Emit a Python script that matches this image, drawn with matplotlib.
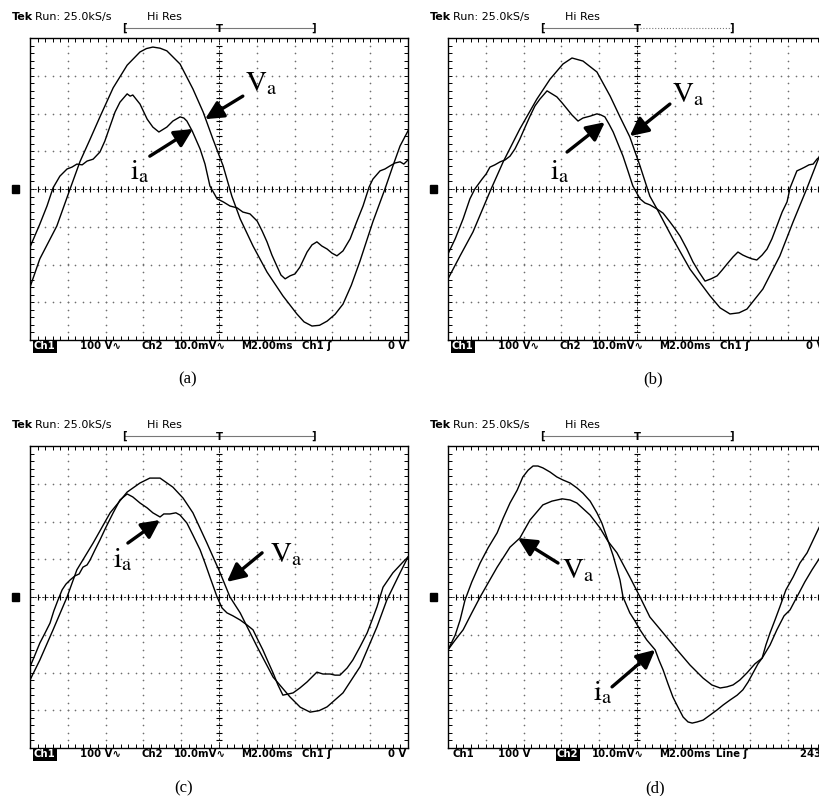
import numpy as np
import matplotlib.pyplot as plt
from matplotlib.patches import Rectangle

plt.rcParams['mathtext.fontset'] = 'stix'

W, H = 820, 796        # figure size in pixels
PW, PH = 378, 302      # one scope screen: 10 x 8 divisions

# --- traces read off the four scope screens ---
# x in divisions (0..10, 2 ms/div), y in divisions (-4..4)
va_a = [(0, -2.60), (0.26, -1.85), (0.71, -0.98), (1.06, 0.00), (1.32, 0.72), (1.59, 1.32),
        (1.85, 1.91), (2.20, 2.68), (2.57, 3.28), (2.91, 3.63), (3.08, 3.72), (3.25, 3.76),
        (3.44, 3.73), (3.62, 3.66), (3.97, 3.31), (4.31, 2.65), (4.58, 2.04), (4.84, 1.32),
        (5.11, 0.61), (5.34, -0.19), (5.56, -0.79), (5.90, -1.51), (6.27, -2.20), (6.69, -2.83),
        (7.06, -3.31), (7.25, -3.52), (7.46, -3.63), (7.66, -3.61), (7.86, -3.50), (8.07, -3.32),
        (8.28, -3.05), (8.50, -2.55), (8.73, -1.91), (9.07, -0.87), (9.39, 0.00), (9.60, 0.61),
        (9.79, 1.14), (10.0, 1.54)]
ia_a = [(0, -1.54), (0.26, -0.93), (0.45, -0.45), (0.61, 0.03), (0.79, 0.34), (0.98, 0.53),
        (1.11, 0.58), (1.24, 0.66), (1.38, 0.64), (1.51, 0.74), (1.67, 0.79), (1.85, 0.98),
        (1.98, 1.27), (2.12, 1.67), (2.25, 2.04), (2.38, 2.30), (2.57, 2.52), (2.65, 2.46),
        (2.72, 2.49), (2.91, 2.25), (3.10, 1.85), (3.25, 1.64), (3.41, 1.51), (3.62, 1.64),
        (3.78, 1.80), (3.97, 1.91), (4.07, 1.88), (4.15, 1.80), (4.29, 1.54), (4.50, 1.06),
        (4.63, 0.66), (4.76, 0.08), (4.95, -0.26), (5.11, -0.34), (5.29, -0.45), (5.48, -0.50),
        (5.63, -0.61), (5.82, -0.66), (6.01, -0.85), (6.14, -1.11), (6.27, -1.40), (6.40, -1.75),
        (6.53, -2.04), (6.64, -2.28), (6.75, -2.38), (6.88, -2.30), (7.01, -2.25), (7.14, -2.07),
        (7.33, -1.67), (7.46, -1.48), (7.59, -1.40), (7.72, -1.51), (7.86, -1.59), (7.99, -1.70),
        (8.12, -1.77), (8.28, -1.64), (8.47, -1.32), (8.65, -0.85), (8.81, -0.45), (8.97, 0.05),
        (9.07, 0.26), (9.26, 0.48), (9.39, 0.53), (9.52, 0.61), (9.66, 0.69), (9.79, 0.72),
        (9.89, 0.66), (10.0, 0.77)]

va_b = [(0, -2.38), (0.32, -1.77), (0.66, -1.14), (1.03, -0.26), (1.14, 0.00), (1.46, 0.72),
        (1.90, 1.59), (2.35, 2.38), (2.70, 2.91), (3.04, 3.31), (3.28, 3.47), (3.57, 3.39),
        (3.94, 3.10), (4.29, 2.46), (4.55, 1.91), (4.81, 1.38), (5.08, 0.61), (5.34, -0.19),
        (5.53, -0.53), (5.95, -1.32), (6.40, -2.12), (6.93, -2.83), (7.20, -3.15), (7.46, -3.31),
        (7.70, -3.28), (7.91, -3.18), (8.33, -2.65), (8.78, -1.77), (9.13, -0.87), (9.50, 0.03),
        (9.85, 0.93)]
ia_b = [(0, -1.72), (0.19, -1.32), (0.40, -0.79), (0.58, -0.26), (0.71, 0.00), (0.90, 0.26),
        (1.01, 0.40), (1.11, 0.58), (1.24, 0.64), (1.38, 0.72), (1.51, 0.77), (1.64, 0.87),
        (1.77, 1.06), (1.90, 1.32), (2.04, 1.64), (2.17, 1.93), (2.30, 2.20), (2.43, 2.38),
        (2.62, 2.60), (2.75, 2.52), (2.88, 2.44), (3.02, 2.28), (3.15, 2.12), (3.28, 1.96),
        (3.44, 1.80), (3.57, 1.88), (3.76, 1.93), (3.94, 1.99), (4.05, 1.96), (4.15, 1.91),
        (4.26, 1.72), (4.37, 1.51), (4.50, 1.19), (4.63, 0.87), (4.76, 0.48), (4.89, 0.08),
        (5.08, -0.26), (5.21, -0.37), (5.34, -0.42), (5.53, -0.53), (5.69, -0.64), (5.87, -0.87),
        (6.01, -1.06), (6.14, -1.25), (6.32, -1.59), (6.48, -1.93), (6.64, -2.20), (6.80, -2.44),
        (6.96, -2.38), (7.12, -2.30), (7.25, -2.15), (7.38, -1.99), (7.54, -1.80), (7.67, -1.67),
        (7.80, -1.75), (7.91, -1.80), (8.04, -1.85), (8.17, -1.88), (8.31, -1.75), (8.44, -1.59),
        (8.57, -1.32), (8.70, -0.98), (8.84, -0.61), (8.97, -0.34), (9.05, 0.03), (9.23, 0.48),
        (9.34, 0.53), (9.44, 0.58), (9.55, 0.64), (9.66, 0.66), (9.76, 0.79), (9.85, 0.87)]

va_c = [(0, -2.20), (0.26, -1.67), (0.61, -0.87), (0.98, 0.00), (1.24, 0.72), (1.67, 1.43),
        (2.12, 2.23), (2.57, 2.78), (2.91, 3.02), (3.17, 3.15), (3.44, 3.15), (3.78, 2.91),
        (4.05, 2.62), (4.31, 2.23), (4.68, 1.43), (5.03, 0.64), (5.29, 0.00), (5.56, -0.42),
        (6.01, -1.32), (6.43, -2.12), (6.88, -2.65), (7.15, -2.92), (7.41, -3.05), (7.65, -3.01),
        (7.86, -2.91), (8.28, -2.54), (8.73, -1.85), (9.18, -0.79), (9.44, -0.08), (9.79, 0.64),
        (10.0, 1.06)]
ia_c = [(0, -1.85), (0.13, -1.54), (0.26, -1.22), (0.40, -0.95), (0.53, -0.69), (0.63, -0.37),
        (0.74, -0.08), (0.85, 0.19), (0.95, 0.34), (1.06, 0.45), (1.19, 0.56), (1.30, 0.61),
        (1.40, 0.79), (1.51, 0.85), (1.59, 0.98), (1.72, 1.25), (1.85, 1.51), (2.01, 1.85),
        (2.20, 2.23), (2.38, 2.57), (2.57, 2.73), (2.72, 2.65), (2.91, 2.49), (3.10, 2.36),
        (3.25, 2.23), (3.44, 2.12), (3.54, 2.20), (3.70, 2.20), (3.86, 2.23), (3.97, 2.17),
        (4.15, 1.96), (4.31, 1.64), (4.50, 1.25), (4.63, 0.90), (4.76, 0.53), (4.95, 0.00),
        (5.08, -0.29), (5.21, -0.42), (5.37, -0.50), (5.56, -0.61), (5.74, -0.74), (5.90, -0.87),
        (6.03, -1.14), (6.16, -1.40), (6.30, -1.72), (6.43, -2.01), (6.56, -2.33), (6.69, -2.60),
        (6.83, -2.57), (6.96, -2.54), (7.14, -2.41), (7.33, -2.25), (7.46, -2.12), (7.59, -1.99),
        (7.75, -2.04), (7.94, -2.04), (8.07, -2.07), (8.20, -2.07), (8.39, -1.88), (8.54, -1.67),
        (8.73, -1.32), (8.92, -0.95), (9.05, -0.61), (9.18, -0.26), (9.34, 0.26), (9.47, 0.45),
        (9.60, 0.64), (9.74, 0.79), (9.87, 0.93), (10.0, 1.06)]

va_d = [(0, -1.40), (0.19, -1.14), (0.40, -0.87), (0.63, -0.42), (0.85, 0.00), (1.06, 0.37),
        (1.30, 0.79), (1.64, 1.32), (1.90, 1.56), (2.17, 2.04), (2.51, 2.44), (2.75, 2.54),
        (3.02, 2.60), (3.23, 2.57), (3.41, 2.49), (3.76, 2.17), (4.02, 1.83), (4.23, 1.48),
        (4.47, 1.17), (4.81, 0.53), (5.08, 0.00), (5.34, -0.53), (5.69, -0.95), (6.06, -1.40),
        (6.40, -1.80), (6.75, -2.15), (6.98, -2.33), (7.20, -2.41), (7.38, -2.38), (7.54, -2.33),
        (7.72, -2.20), (7.91, -2.01), (8.12, -1.77), (8.31, -1.62), (8.52, -1.27), (8.70, -0.87),
        (8.89, -0.50), (9.05, -0.34), (9.23, 0.00), (9.44, 0.40), (9.63, 0.72), (9.85, 1.06)]
ia_d = [(0, -1.40), (0.19, -1.01), (0.32, -0.61), (0.45, -0.08), (0.63, 0.40), (0.85, 0.90),
        (1.06, 1.30), (1.30, 1.70), (1.46, 2.09), (1.64, 2.49), (1.83, 2.83), (1.98, 3.18),
        (2.12, 3.36), (2.25, 3.47), (2.38, 3.47), (2.51, 3.42), (2.70, 3.31), (2.88, 3.18),
        (3.04, 3.10), (3.23, 3.02), (3.41, 2.89), (3.57, 2.75), (3.76, 2.54), (3.94, 2.23),
        (4.07, 1.96), (4.21, 1.56), (4.37, 1.09), (4.55, 0.45), (4.63, 0.00), (4.81, -0.42),
        (4.95, -0.64), (5.08, -0.87), (5.26, -1.14), (5.48, -1.40), (5.58, -1.67), (5.69, -1.93),
        (5.82, -2.30), (5.95, -2.65), (6.08, -2.91), (6.22, -3.18), (6.35, -3.31), (6.46, -3.34),
        (6.59, -3.31), (6.75, -3.26), (6.93, -3.13), (7.12, -2.99), (7.28, -2.86), (7.46, -2.73),
        (7.65, -2.60), (7.80, -2.46), (7.94, -2.25), (8.07, -2.01), (8.20, -1.77), (8.31, -1.62),
        (8.41, -1.27), (8.52, -0.95), (8.65, -0.61), (8.78, -0.26), (8.94, 0.19), (9.13, 0.53),
        (9.31, 0.90), (9.50, 1.17), (9.66, 1.51), (9.85, 1.91)]

# readout strings at the bottom of each screen
strip_abc = ['Ch1', '100 V\u223f', 'Ch2', '10.0mV\u223f', 'M2.00ms', 'Ch1 \u0283', '0 V']
strip_d = ['Ch1', '100 V', 'Ch2', '10.0mV\u223f', 'M2.00ms', 'Line \u0283', '243 V']
strip_pos = [0.10, 1.32, 2.94, 3.80, 5.58, 7.20, 9.47]
strip_pos_d = [0.13, 1.32, 2.88, 3.81, 5.58, 7.10, 9.31]

fig = plt.figure(figsize=(W / 100, H / 100), dpi=100)
fig.patch.set_facecolor('white')

scope_font = dict(family='DejaVu Sans', fontsize=7.3, clip_on=False)
head_font = dict(family='DejaVu Sans', fontsize=8.0, clip_on=False)


def screen(left, top, va, ia, labels, xpos, hilite, dotted_bracket=False):
    ax = fig.add_axes([left / W, 1 - (top + PH) / H, PW / W, PH / H])
    ax.set_xlim(0, 10)
    ax.set_ylim(-4, 4)

    # dotted graticule
    ys = np.arange(-4, 4.01, 0.2)
    xs = np.arange(0, 10.01, 0.2)
    for gx in [1, 2, 3, 4, 6, 7, 8, 9]:
        ax.plot(np.full(len(ys), gx), ys, ls='none', marker='o', ms=1.2, color='#6e6e6e', mew=0)
    for gy in [-3, -2, -1, 1, 2, 3]:
        ax.plot(xs, np.full(len(xs), gy), ls='none', marker='o', ms=1.2, color='#6e6e6e', mew=0)

    # centre cross with minor ticks
    ax.axhline(0, color='#333333', lw=0.7, dashes=(2.5, 1.5))
    ax.axvline(5, color='#333333', lw=0.7, dashes=(2.5, 1.5))
    ax.plot(xs, np.zeros(len(xs)), ls='none', marker='|', ms=5, mew=0.8, color='black')
    ax.plot(np.full(len(ys), 5), ys, ls='none', marker='_', ms=5, mew=0.8, color='black')

    # border ticks
    ax.set_xticks(xs)
    ax.set_yticks(ys)
    ax.tick_params(direction='in', length=3, width=0.7, top=True, right=True,
                   labelbottom=False, labelleft=False)
    for s in ax.spines.values():
        s.set_linewidth(1.0)

    # traces
    for trace in (va, ia):
        tx, ty = zip(*trace)
        ax.plot(tx, ty, color='black', lw=1.0)

    # header
    ax.text(-0.48, 4.56, 'Tek', fontweight='bold', va='center', **head_font)
    ax.text(0.14, 4.56, 'Run: 25.0kS/s', va='center', **head_font)
    ax.text(3.10, 4.56, 'Hi Res', va='center', **head_font)

    # trigger position bracket
    ax.plot([2.5, 5.0], [4.26, 4.26], color='#777777', lw=0.8, clip_on=False)
    if dotted_bracket:
        ax.plot([5.0, 7.5], [4.26, 4.26], color='#777777', lw=0.8, ls=':', clip_on=False)
    else:
        ax.plot([5.0, 7.5], [4.26, 4.26], color='#777777', lw=0.8, clip_on=False)
    ax.text(2.5, 4.26, '[', ha='center', va='center', fontweight='bold', **scope_font)
    ax.text(7.5, 4.26, ']', ha='center', va='center', fontweight='bold', **scope_font)
    ax.text(5.0, 4.25, 'T', ha='center', va='center', fontweight='bold', **scope_font)

    # ground marker
    ax.add_patch(Rectangle((-0.48, -0.11), 0.2, 0.22, color='black', clip_on=False))

    # bottom readout
    for i, (lab, px) in enumerate(zip(labels, xpos)):
        if i == hilite:
            ax.text(px, -4.17, lab, va='center', color='white', fontweight='bold',
                    bbox=dict(boxstyle='square,pad=0.12', fc='black', ec='none'), **scope_font)
        else:
            ax.text(px, -4.17, lab, va='center', fontweight='bold', **scope_font)
    return ax


def arrow(ax, tail, tip):
    ax.annotate('', xy=tip, xytext=tail,
                arrowprops=dict(arrowstyle='-|>,head_length=0.5,head_width=0.25',
                                mutation_scale=22, lw=2.4, color='black',
                                shrinkA=0, shrinkB=0))


def label(ax, x, y, s):
    ax.text(x, y, s, fontsize=21, ha='left', va='baseline')


V_LAB = r'$\mathrm{V}_{\mathrm{a}}$'
I_LAB = r'$\mathrm{i}_{\mathrm{a}}$'

# (a)
ax = screen(30, 38, va_a, ia_a, strip_abc, strip_pos, 0)
arrow(ax, (5.63, 2.46), (4.63, 1.85))
arrow(ax, (3.17, 0.87), (4.31, 1.59))
label(ax, 5.69, 2.60, V_LAB)
label(ax, 2.65, 0.26, I_LAB)

# (b)
ax = screen(448, 38, va_b, ia_b, strip_abc, strip_pos, 0, dotted_bracket=True)
arrow(ax, (5.87, 2.25), (4.81, 1.40))
arrow(ax, (3.15, 0.98), (4.15, 1.77))
label(ax, 5.93, 2.30, V_LAB)
label(ax, 2.70, 0.26, I_LAB)

# (c)
ax = screen(30, 446, va_c, ia_c, strip_abc, strip_pos, 0)
arrow(ax, (2.59, 1.43), (3.44, 2.04))
arrow(ax, (6.14, 1.17), (5.21, 0.40))
label(ax, 2.20, 0.79, I_LAB)
label(ax, 6.35, 0.93, V_LAB)

# (d)
ax = screen(448, 446, va_d, ia_d, strip_d, strip_pos_d, 2)
arrow(ax, (2.91, 0.90), (1.85, 1.56))
arrow(ax, (4.34, -2.38), (5.48, -1.40))
label(ax, 3.02, 0.50, V_LAB)
label(ax, 3.84, -2.73, I_LAB)

# sub-figure captions
for lab, cx, cy in [('(a)', 188, 379), ('(b)', 653, 379), ('(c)', 184, 788), ('(d)', 655, 788)]:
    fig.text(cx / W, 1 - cy / H, lab, ha='center', va='center', fontsize=12,
             family='Liberation Serif')

fig.savefig('out.png', dpi=100)
